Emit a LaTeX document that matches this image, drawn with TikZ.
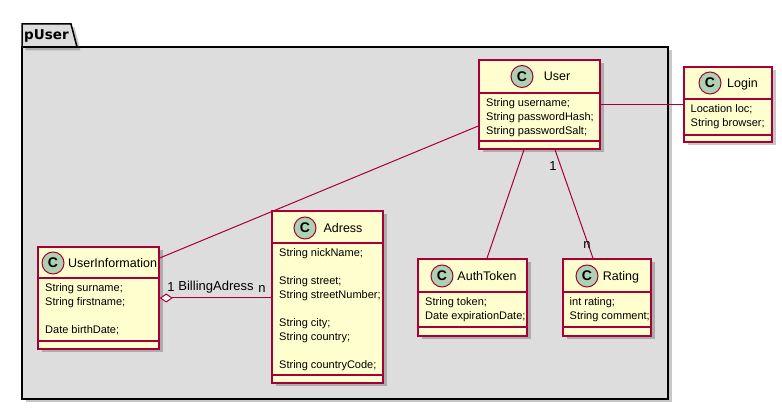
\documentclass[tikz,border=0pt]{standalone}
\usepackage{fontspec}
\setmainfont{Liberation Sans}
\newfontfamily\pkgfont{DejaVu Sans}
\usetikzlibrary{arrows.meta,shadows}
\definecolor{umlred}{HTML}{A80036}
\definecolor{umlfill}{HTML}{FEFECE}
\definecolor{umlcirc}{HTML}{ADD1B2}
\definecolor{pkgfill}{HTML}{DDDDDD}
\tikzset{
  myshadow/.style={drop shadow={shadow xshift=3.5pt, shadow yshift=-3.5pt, fill=black, opacity=0.22}},
  classbox/.style={draw=umlred, fill=umlfill, line width=1.5pt, inner sep=0, myshadow},
  sepline/.style={draw=umlred, line width=1.5pt},
  classcirc/.style={circle, draw=umlred, fill=umlcirc, line width=1pt, minimum size=22pt, inner sep=0, font=\fontsize{14}{14}\selectfont\bfseries},
  classname/.style={font=\fontsize{12.5}{14}\selectfont, inner sep=0, anchor=base},
  attr/.style={font=\fontsize{11}{14}\selectfont, inner sep=0, anchor=base west},
  assoc/.style={draw=umlred, line width=1pt},
  lbl/.style={font=\fontsize{13}{14}\selectfont, inner sep=0, anchor=base},
}
\begin{document}
\begin{tikzpicture}[x=1pt,y=-1pt]
\useasboundingbox[fill=white] (0,0) rectangle (782,411);
% package
\draw[black, line width=1.5pt, fill=pkgfill, myshadow] (22,47) rectangle (668,399);
\draw[black, line width=1.5pt, fill=pkgfill, myshadow] (22,47) -- (22,24) -- (71,24) -- (77,47) -- cycle;
\node[font=\pkgfont\fontsize{13.5}{14}\selectfont\bfseries, inner sep=0, anchor=base west] (pkgname) at (24,40) {pUser};

% classes
\node[classbox, minimum width=121pt, minimum height=89pt] (user) at (539.5,104.5) {};
\node[classbox, minimum width=88pt, minimum height=75pt] (login) at (728,104.5) {};
\node[classbox, minimum width=121pt, minimum height=102pt] (uinfo) at (98.5,298) {};
\node[classbox, minimum width=111pt, minimum height=172pt] (adress) at (327.5,297) {};
\node[classbox, minimum width=109pt, minimum height=77pt] (auth) at (472.5,297.5) {};
\node[classbox, minimum width=88pt, minimum height=77pt] (rating) at (607,297.5) {};

% connectors
\draw[assoc] ([yshift=-21.5pt]user.west) -- ([yshift=40pt]uinfo.east);
\draw[assoc] (user.east) -- (login.west);
\draw[assoc] ([xshift=-15.5pt]user.south) -- ([xshift=14.5pt]auth.north);
\draw[assoc] ([xshift=15.5pt]user.south) -- ([xshift=-14pt]rating.north);
\draw[assoc, {Diamond[fill=white, length=13pt, width=9pt]}-] (uinfo.east) -- (uinfo.east -| adress.west);

% separators
\draw[sepline] (479,93) -- (600,93);
\draw[sepline] (479,141) -- (600,141);
\draw[sepline] (684,99) -- (772,99);
\draw[sepline] (684,135) -- (772,135);
\draw[sepline] (38,278) -- (159,278);
\draw[sepline] (38,341) -- (159,341);
\draw[sepline] (272,243) -- (383,243);
\draw[sepline] (272,375) -- (383,375);
\draw[sepline] (418,292) -- (527,292);
\draw[sepline] (418,327) -- (527,327);
\draw[sepline] (563,292) -- (651,292);
\draw[sepline] (563,327) -- (651,327);

% headers
\node[classcirc] (userC) at (522,76.5) {C};
\node[classname] (userN) at (557,81) {User};
\node[classcirc] (loginC) at (710,83) {C};
\node[classname] (loginN) at (742.5,87.5) {Login};
\node[classcirc] (uinfoC) at (53,263) {C};
\node[classname] (uinfoN) at (112.5,267.5) {UserInformation};
\node[classcirc] (adressC) at (305,228) {C};
\node[classname] (adressN) at (343,232.5) {Adress};
\node[classcirc] (authC) at (442,276) {C};
\node[classname] (authN) at (487,280.5) {AuthToken};
\node[classcirc] (ratingC) at (587,276) {C};
\node[classname] (ratingN) at (621,280.5) {Rating};

% attributes
\node[attr] (userA1) at (486,107) {String username;};
\node[attr] (userA2) at (486,121) {String passwordHash;};
\node[attr] (userA3) at (486,135) {String passwordSalt;};
\node[attr] (loginA1) at (690.5,113) {Location loc;};
\node[attr] (loginA2) at (690.5,127) {String browser;};
\node[attr] (uinfoA1) at (45,292) {String surname;};
\node[attr] (uinfoA2) at (45,306) {String firstname;};
\node[attr] (uinfoA3) at (45,334) {Date birthDate;};
\node[attr] (adressA1) at (279,257) {String nickName;};
\node[attr] (adressA2) at (279,285) {String street;};
\node[attr] (adressA3) at (279,299) {String streetNumber;};
\node[attr] (adressA4) at (279,327) {String city;};
\node[attr] (adressA5) at (279,341) {String country;};
\node[attr] (adressA6) at (279,369) {String countryCode;};
\node[attr] (authA1) at (425,306) {String token;};
\node[attr] (authA2) at (425,320) {Date expirationDate;};
\node[attr] (ratingA1) at (569.5,306) {int rating;};
\node[attr] (ratingA2) at (569.5,320) {String comment;};

% labels
\node[lbl] (l1) at (171,292) {1};
\node[lbl] (lba) at (216,291) {BillingAdress};
\node[lbl] (ln) at (262,293) {n};
\node[lbl] (l2) at (553,171) {1};
\node[lbl] (l3) at (587,249) {n};
\end{tikzpicture}
\end{document}
